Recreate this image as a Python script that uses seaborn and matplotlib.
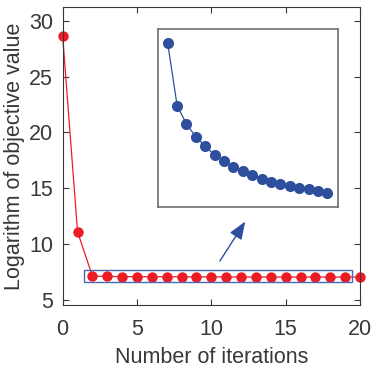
import numpy as np
import matplotlib
matplotlib.use('Agg')
import matplotlib.pyplot as plt
from matplotlib.patches import Rectangle
import pandas as pd
import seaborn as sns

sns.set_theme(style='ticks')
plt.rcParams['font.family'] = ['Liberation Sans', 'DejaVu Sans']

# data
iters = list(range(0, 21))
first_vals = [28.6, 11.1]
# late iterations (2..19), flat on the main scale, shown zoomed in the inset
tail_vals = [7.1400, 7.1026, 7.0914, 7.0838, 7.0780, 7.0730, 7.0692, 7.0658, 7.0630,
             7.0606, 7.0586, 7.0568, 7.0554, 7.0542, 7.0532, 7.0522, 7.0514, 7.0502]
last_val = [7.0495]
obj_vals = first_vals + tail_vals + last_val
inset_iters = list(range(2, 20))

df = pd.DataFrame({'iter': iters, 'obj': obj_vals})
df_in = pd.DataFrame({'iter': inset_iters, 'obj': tail_vals})

red = '#ec1c24'
blue = '#2e4f9e'
txt = '#383838'

fig = plt.figure(figsize=(3.74, 3.67), dpi=100)
ax = fig.add_axes([0.1676, 0.169, 0.795, 0.811])
sns.lineplot(data=df, x='iter', y='obj', ax=ax, color=red, lw=0.9,
             marker='o', markersize=7.5, markeredgewidth=0, clip_on=False)
ax.set_xlim(0, 20)
ax.set_ylim(4.55, 31.2)
ax.set_xticks([0, 5, 10, 15, 20])
ax.set_yticks([5, 10, 15, 20, 25, 30])
ax.set_xlabel('Number of iterations', fontsize=15.5, color=txt, labelpad=5)
ax.set_ylabel('Logarithm of objective value', fontsize=15.5, color=txt, labelpad=3)
ax.tick_params(axis='x', pad=10)
ax.tick_params(axis='y', pad=7)
ax.tick_params(direction='in', top=True, right=True, length=4, width=0.8,
               labelsize=15.5, colors=txt)
for s in ax.spines.values():
    s.set_color(txt)
    s.set_linewidth(0.8)

# box around the zoomed part
ax.add_patch(Rectangle((1.45, 6.63), 18.04, 1.05, fill=False,
                       edgecolor='#4a67b3', lw=1.0, zorder=5))
ax.annotate('', xy=(12.38, 12.23), xytext=(10.47, 8.27),
            arrowprops=dict(arrowstyle='-|>,head_length=0.9,head_width=0.35',
                            color=blue, lw=1.0))

# inset
axin = fig.add_axes([0.4233, 0.4368, 0.4797, 0.4834])
sns.lineplot(data=df_in, x='iter', y='obj', ax=axin, color=blue, lw=0.9,
             marker='o', markersize=8, markeredgewidth=0)
axin.set_xlim(1, 20.1)
lo, hi = min(tail_vals), max(tail_vals)
pad = (hi - lo) * 0.094
axin.set_ylim(lo - pad, hi + pad)
axin.set_xticks([])
axin.set_yticks([])
axin.set_xlabel('')
axin.set_ylabel('')
for s in axin.spines.values():
    s.set_color('#707070')
    s.set_linewidth(1.2)

fig.savefig('out.png', dpi=100)
